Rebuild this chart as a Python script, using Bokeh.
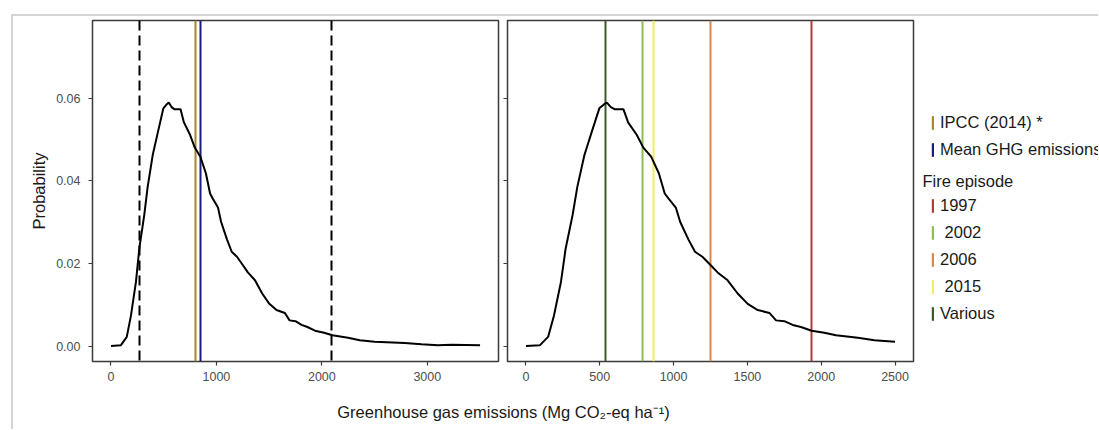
from bokeh.plotting import figure
from bokeh.models import Range1d, FixedTicker, Legend, LegendItem, Label, CustomJSTickFormatter
from bokeh.layouts import column, row
from bokeh.embed import file_html
from bokeh.resources import INLINE

# ---------------- data ----------------
emission_x = [0, 95, 150, 190, 237, 269, 316, 348, 396, 443, 497, 530, 548, 575, 600,
              660, 692, 750, 795, 848, 900, 940, 965, 1015, 1045, 1100, 1145, 1195, 1250,
              1298, 1366, 1434, 1502, 1570, 1649, 1694, 1750, 1807, 1863, 1935, 2021, 2100,
              2248, 2360, 2500, 2786, 2944, 3102, 3229, 3500]
probability = [0.0, 0.0002, 0.0022, 0.0074, 0.0155, 0.0236, 0.0317, 0.0385, 0.0462, 0.0515,
               0.0575, 0.0585, 0.0589, 0.0578, 0.0573, 0.0573, 0.0541, 0.0511, 0.0480, 0.0458,
               0.0418, 0.0369, 0.0357, 0.0335, 0.0300, 0.0258, 0.0228, 0.0216, 0.0196, 0.0178,
               0.0159, 0.0127, 0.0102, 0.0087, 0.0080, 0.0062, 0.0060, 0.0051, 0.0046, 0.0037,
               0.0032, 0.0026, 0.0020, 0.0014, 0.0010, 0.0007, 0.0004, 0.0002, 0.0003, 0.0002]
right_panel_max = 2500

ipcc_x = [804]
mean_ghg_x = [848]
interval_x = [269, 2095]

fire_labels = ["1997", " 2002", "2006", " 2015", "Various"]
fire_x = [1935, 790, 1247, 863, 537]

left_ticks = [0, 1000, 2000, 3000]
right_ticks = [0, 500, 1000, 1500, 2000, 2500]
y_ticks = [0.0, 0.02, 0.04, 0.06]

ref_labels = ["IPCC (2014) *", "Mean GHG emissions"]

# ---------------- styles ----------------
FONT = "Liberation Sans"
ipcc_color = "#a8862e"
mean_color = "#1c1c7c"
fire_colors = ["#b23a3a", "#8cbf4f", "#d98a4a", "#f0f05a", "#3d5a2a"]
frame_color = "#3a3a3a"
tick_text_color = "#4d4d4d"

Y_RANGE = (-0.00375, 0.07875)
PANEL_H = 374


def make_panel(x_range, width, mb_left, xticks, show_ylabels):
    p = figure(width=width, height=PANEL_H, x_range=x_range,
               y_range=Range1d(*Y_RANGE), output_backend="svg",
               toolbar_location=None, min_border_left=mb_left, min_border_right=4,
               min_border_top=4, min_border_bottom=29)
    p.grid.visible = False
    p.outline_line_color = frame_color
    p.outline_line_width = 1.5
    p.xaxis.ticker = FixedTicker(ticks=xticks)
    p.yaxis.ticker = FixedTicker(ticks=y_ticks)
    for ax in list(p.xaxis) + list(p.yaxis):
        ax.axis_line_color = None
        ax.major_tick_line_color = frame_color
        ax.major_tick_line_width = 1.2
        ax.major_tick_out = 4
        ax.major_tick_in = 0
        ax.minor_tick_line_color = None
        ax.major_label_text_font = FONT
        ax.major_label_text_font_size = "12.5px"
        ax.major_label_text_color = tick_text_color
    p.xaxis.major_label_standoff = 6
    if show_ylabels:
        p.yaxis.formatter = CustomJSTickFormatter(code="return tick.toFixed(2);")
        p.yaxis.major_label_standoff = 8
        p.yaxis.axis_label = "Probability"
        p.yaxis.axis_label_text_font = FONT
        p.yaxis.axis_label_text_font_size = "16.5px"
        p.yaxis.axis_label_text_font_style = "normal"
        p.yaxis.axis_label_text_color = "#1a1a1a"
        p.yaxis.axis_label_standoff = 5
    else:
        p.yaxis.formatter = CustomJSTickFormatter(code="return '';")
        p.yaxis.major_label_standoff = 0
    return p


# left panel
p1 = make_panel(Range1d(-175, 3675), 489, 79, left_ticks, True)
p1.vspan(x=interval_x, line_color="black", line_width=2, line_dash="10 5")
p1.vspan(x=ipcc_x, line_color=ipcc_color, line_width=2)
p1.vspan(x=mean_ghg_x, line_color=mean_color, line_width=2)
p1.line(emission_x, probability, line_color="black", line_width=2)

# right panel
p2 = make_panel(Range1d(-125, 2625), 415, 5, right_ticks, False)
for fx, fc in zip(fire_x, fire_colors):
    p2.vspan(x=[fx], line_color=fc, line_width=2)
rx = [x for x in emission_x if x <= right_panel_max]
ry = probability[:len(rx)]
p2.line(rx, ry, line_color="black", line_width=2)

# legend panel (its frame is aligned with the panels' frames)
p3 = figure(width=181, height=PANEL_H, x_range=Range1d(0, 1), y_range=Range1d(0, 1),
            output_backend="svg", toolbar_location=None, min_border=0,
            x_axis_type=None, y_axis_type=None)
p3.grid.visible = False
p3.outline_line_color = None
nan = float("nan")


def dummy(color):
    return p3.quad(left=[nan], right=[nan], top=[nan], bottom=[nan],
                   fill_color=color, line_color=None)


legend_kw = dict(orientation="vertical", glyph_width=3, glyph_height=17, label_height=19,
                 spacing=8, label_standoff=6, padding=0, margin=0,
                 border_line_color=None, background_fill_alpha=0,
                 label_text_font=FONT, label_text_font_size="16.5px",
                 label_text_color="#1a1a1a")

items1 = [LegendItem(label=ref_labels[0], renderers=[dummy(ipcc_color)]),
          LegendItem(label=ref_labels[1], renderers=[dummy(mean_color)])]
leg1 = Legend(items=items1, location=(14, 202.5), **legend_kw)
p3.add_layout(leg1)

items2 = [LegendItem(label=lab, renderers=[dummy(c)]) for lab, c in zip(fire_labels, fire_colors)]
leg2 = Legend(items=items2, location=(14, 38.5), **legend_kw)
p3.add_layout(leg2)

p3.add_layout(Label(x=5, y=181, x_units="screen", y_units="screen", text="Fire episode",
                    text_font=FONT, text_font_size="16.5px", text_color="#1a1a1a",
                    text_baseline="middle"))

# shared x-axis title
plab = figure(width=904, height=39, x_range=Range1d(0, 1), y_range=Range1d(0, 1),
              output_backend="svg", toolbar_location=None, min_border=0,
              x_axis_type=None, y_axis_type=None)
plab.grid.visible = False
plab.outline_line_color = None
plab.add_layout(Label(x=490, y=17.5, x_units="screen", y_units="screen",
                      text="Greenhouse gas emissions (Mg CO\u2082-eq ha\u207b\u00b9)",
                      text_font=FONT, text_font_size="16.5px", text_color="#1a1a1a",
                      text_align="center", text_baseline="middle"))

layout = column(row(p1, p2, p3), plab,
                styles={"border-top": "2px solid #d4d4d4", "border-left": "2px solid #d4d4d4",
                        "margin-left": "11px", "margin-top": "14px"})

open("out.html", "w").write(file_html(layout, INLINE))
